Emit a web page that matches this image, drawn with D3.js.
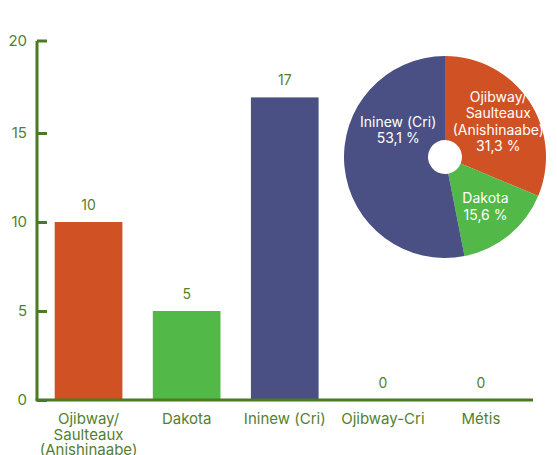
<!DOCTYPE html>
<html><head><meta charset="utf-8">
<script src="https://cdn.jsdelivr.net/npm/d3@7"></script>
<style>body{margin:0;background:#fff}svg{display:block;font-family:Inter,"Noto Sans",sans-serif}</style>
</head><body><svg id="c" width="557" height="455"></svg>
<script>
const categories = [["Ojibway/","Saulteaux","(Anishinaabe)"],["Dakota"],["Ininew (Cri)"],["Ojibway-Cri"],["Métis"]];
const values = [10, 5, 17, 0, 0];
const barColors = ["#d05124","#52b848","#4a5083","#4a5083","#4a5083"];
const yTicks = [0, 5, 10, 15, 20];
const pieLabels = [["Ojibway/","Saulteaux","(Anishinaabe)"],["Dakota"],["Ininew (Cri)"]];
const pieValues = [31.3, 15.6, 53.1];
const pieText = ["31,3 %","15,6 %","53,1 %"];
const pieColors = ["#d05124","#52b848","#4a5083"];

const svg = d3.select("#c");
const green = "#4a7a23", textGreen = "#537f31";
const x = d3.scaleBand().domain(d3.range(values.length)).range([39.5, 530]).paddingInner(0.31).paddingOuter(0.155);
const y = d3.scaleLinear().domain([0, 20]).range([400, 44]);

// bars
svg.selectAll("rect.bar").data(values).join("rect")
  .attr("x", (d,i)=>x(i)).attr("y", d=>y(d)).attr("width", x.bandwidth())
  .attr("height", d=>y(0)-y(d)).attr("fill", (d,i)=>barColors[i]);

// value labels
svg.selectAll("text.val").data(values).join("text")
  .attr("x", (d,i)=>x(i)+x.bandwidth()/2).attr("y", d=>y(d)-12)
  .attr("text-anchor","middle").attr("font-size",14).attr("fill",textGreen).text(d=>d);

// y axis
const yAxis = svg.append("g").attr("transform","translate(37,0)")
  .call(d3.axisRight(y).tickValues(yTicks).tickSize(10).tickFormat(d3.format("d")));
yAxis.select(".domain").attr("stroke",green).attr("stroke-width",3).attr("d","M0,"+(y(20)-3)+"V"+y(0));
yAxis.selectAll(".tick line").attr("stroke",green).attr("stroke-width",3);
yAxis.selectAll(".tick").filter(d=>d===20).attr("transform","translate(0,"+(y(20)-3)+")");
yAxis.selectAll(".tick text").attr("x",-10).attr("text-anchor","end").attr("fill",textGreen).attr("font-size",15).attr("font-family","Inter");

// x axis line
svg.append("line").attr("x1",35.5).attr("x2",533).attr("y1",y(0)).attr("y2",y(0)).attr("stroke",green).attr("stroke-width",3);

// x labels
const xl = svg.selectAll("text.xl").data(categories).join("text")
  .attr("text-anchor","middle").attr("font-size",15).attr("fill",textGreen)
  .attr("transform",(d,i)=>`translate(${x(i)+x.bandwidth()/2},424)`);
xl.selectAll("tspan").data(d=>d).join("tspan").attr("x",0).attr("dy",(d,j)=>j?15.5:0).text(d=>d);

// pie
const cx = 445, cy = 157, R = 101, r0 = 17;
const pie = d3.pie().sort(null).value(d=>d)(pieValues);
const arc = d3.arc().innerRadius(r0).outerRadius(R);
const g = svg.append("g").attr("transform",`translate(${cx},${cy})`);
g.selectAll("path").data(pie).join("path").attr("d",arc).attr("fill",(d,i)=>pieColors[i]);
g.selectAll("text").data(pie).join("text")
  .attr("text-anchor","middle").attr("font-size",14).attr("fill","#fff")
  .each(function(d,i){
    let a = (d.startAngle+d.endAngle)/2;
    if (d.endAngle - d.startAngle > Math.PI) a = -1.05; // big slice label moved upward
    const rr = i===2 ? 54 : 64;
    const px = rr*Math.sin(a), py = -rr*Math.cos(a);
    const lines = pieLabels[i].concat([pieText[i]]);
    const t = d3.select(this);
    const startY = py - (lines.length-1)*16.3/2 + 5;
    lines.forEach((s,j)=>t.append("tspan").attr("x",px).attr("y",startY+j*16.3).text(s));
  });
</script></body></html>
